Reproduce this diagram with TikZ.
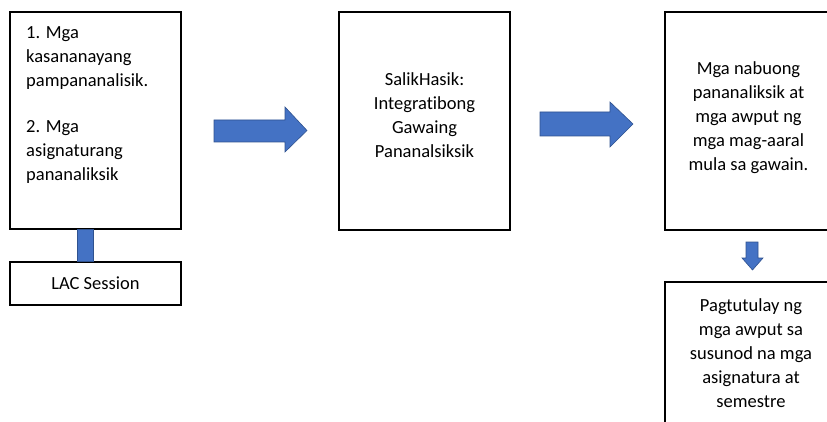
\documentclass[tikz,border=0pt]{standalone}
\usepackage{fontspec}
\setmainfont{Carlito}[Ligatures=NoCommon]
\usetikzlibrary{positioning}
\definecolor{arrowblue}{HTML}{4472C4}
\definecolor{arrowedge}{HTML}{2F528F}
\tikzset{
  box/.style={draw, line width=1.3pt, inner sep=0pt},
  txt/.style={inner sep=0pt, font=\fontsize{18.5}{24}\selectfont},
  blockarrow/.style={fill=arrowblue, draw=arrowedge, line width=0.6pt}
}
\begin{document}
\begin{tikzpicture}[x=1pt,y=1pt]
\useasboundingbox (0,0) rectangle (827,421);

% boxes
\node[box, minimum width=171, minimum height=217] (start) at (95.5,300.5) {};
\node[box, txt, minimum width=171, minimum height=43] (lac) at (95.5,137.5) {LAC Session};
\node[box, minimum width=171, minimum height=218] (salik) at (424.5,300) {};
\node[box, minimum width=167, minimum height=218] (output) at (748.5,300) {};
\node[box, minimum width=172, minimum height=150] (bridge) at (751,64) {};

% texts in the boxes
\node[txt, align=left, anchor=north west] (startlist) at (26,395)
  {1. Mga\\kasananayang\\pampananalisik.\\[22pt]2. Mga\\asignaturang\\pananaliksik};
\node[txt, align=center] (saliktext) at ([yshift=6]salik.center)
  {SalikHasik:\\Integratibong\\Gawaing\\Pananalsiksik};
\node[txt, align=center] (outputtext) at ([yshift=3]output.center)
  {Mga nabuong\\pananaliksik at\\mga awput ng\\mga mag-aaral\\mula sa gawain.};
\node[txt, align=center, anchor=north] (bridgetext) at (751,123)
  {Pagtutulay ng\\mga awput sa\\susunod na mga\\asignatura at\\semestre};

% connector to the LAC box
\draw[blockarrow] ([xshift=-18.5]start.south) rectangle ([xshift=-2.5]lac.north);

% block arrows
\draw[blockarrow] (214,279) -- (285,279) -- (285,269) -- (307,290.5) -- (285,314) -- (285,301) -- (214,301) -- cycle;
\draw[blockarrow] (540,285) -- (610,285) -- (610,274) -- (633,297) -- (610,319) -- (610,309) -- (540,309) -- cycle;
\draw[blockarrow] (746,179) -- (758,179) -- (758,163) -- (763,163) -- (752.5,151) -- (742,163) -- (746,163) -- cycle;
\end{tikzpicture}
\end{document}
